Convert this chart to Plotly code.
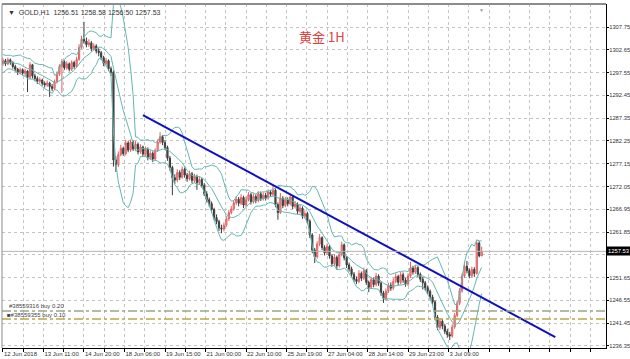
import plotly.graph_objects as go
import pandas as pd

# ---------------- data (2-hour bars, GOLD) ----------------
first_open = 1299.6
warmup_closes = [1297.8, 1298.6, 1299.9, 1300.8, 1299.4, 1298.2, 1299.6, 1301.0, 1300.1]

closes = [
    1300.2, 1299.5, 1300.4, 1299.8, 1298.9, 1298.3, 1297.6, 1298.2, 1297.4, 1297.9,
    1296.5, 1299.3, 1296.8, 1296.2, 1295.6, 1295.9, 1295.1, 1294.8, 1295.2, 1294.4,
    1294.0, 1295.5, 1297.2, 1298.9, 1300.0, 1298.6, 1299.5, 1298.3, 1299.8, 1298.9,
    1300.5, 1303.2, 1305.0, 1304.6, 1303.8, 1304.2, 1302.9, 1303.5, 1302.4, 1302.0,
    1300.9, 1299.6, 1300.2, 1298.4, 1297.6, 1278.0, 1276.9, 1279.2, 1280.6, 1279.4,
    1281.8, 1280.2, 1282.0, 1280.5, 1281.5, 1279.8, 1280.9, 1279.3, 1280.4, 1278.6,
    1279.5, 1278.2, 1280.1, 1282.0, 1283.2, 1281.9, 1280.8, 1278.4, 1276.3, 1274.0,
    1273.5, 1275.2, 1274.1, 1275.9, 1274.6, 1273.8, 1274.9, 1273.4, 1274.3, 1272.9,
    1273.6, 1272.3, 1270.4, 1269.1, 1268.2, 1266.9, 1265.1, 1264.2, 1262.8, 1262.5,
    1263.4, 1264.8, 1266.2, 1267.0, 1268.4, 1269.2, 1268.3, 1269.6, 1267.9, 1269.1,
    1270.2, 1268.6, 1269.8, 1268.9, 1270.4, 1269.3, 1270.1, 1269.5, 1270.8, 1270.3,
    1271.2, 1268.0, 1266.2, 1269.4, 1267.8, 1269.0, 1268.2, 1269.7, 1267.6, 1268.1,
    1266.5, 1267.2, 1265.4, 1266.0, 1264.3, 1261.2, 1257.8, 1256.3, 1259.2, 1260.6,
    1258.4, 1257.2, 1258.6, 1256.5, 1254.8, 1256.2, 1254.3, 1256.8, 1259.0, 1256.1,
    1254.5, 1253.6, 1252.4, 1251.3, 1250.8, 1252.6, 1251.5, 1253.2, 1250.6, 1249.5,
    1251.2, 1250.1, 1252.0, 1250.4, 1248.2, 1247.0, 1248.6, 1249.9, 1249.3, 1250.8,
    1251.9, 1250.6, 1252.3, 1251.1, 1250.2, 1252.0, 1253.8, 1252.9, 1253.9, 1252.4,
    1251.3, 1250.5, 1249.4, 1248.6, 1247.3, 1246.2, 1242.8, 1240.5, 1241.9, 1240.8,
    1239.6, 1238.9, 1238.6, 1240.6, 1243.2, 1245.9, 1248.7, 1252.0, 1254.2, 1253.2,
    1252.1, 1253.5, 1252.6, 1259.4, 1256.51, 1257.53]

highs = [
    1300.8, 1300.6, 1300.9, 1300.7, 1300.1, 1299.3, 1298.6, 1298.7, 1298.5, 1298.4,
    1298.1, 1299.9, 1299.5, 1297.3, 1296.7, 1296.5, 1296.2, 1295.6, 1295.8, 1295.5,
    1295.0, 1296.0, 1297.8, 1299.4, 1300.6, 1300.3, 1300.1, 1299.8, 1300.3, 1300.2,
    1301.1, 1303.9, 1305.8, 1308.9, 1305.4, 1305.0, 1304.6, 1304.1, 1303.9, 1303.0,
    1302.4, 1301.3, 1300.8, 1300.5, 1298.9, 1298.0, 1278.8, 1279.9, 1281.4, 1281.0,
    1282.5, 1282.2, 1282.6, 1282.4, 1282.2, 1281.9, 1281.5, 1281.2, 1281.0, 1280.8,
    1280.1, 1279.9, 1280.6, 1282.6, 1284.2, 1283.6, 1282.4, 1281.2, 1278.9, 1276.7,
    1274.8, 1275.9, 1275.7, 1276.5, 1276.3, 1275.1, 1275.6, 1275.3, 1274.9, 1274.7,
    1274.3, 1274.0, 1272.8, 1271.0, 1269.6, 1268.7, 1267.3, 1265.8, 1264.6, 1263.5,
    1264.0, 1265.4, 1266.8, 1267.7, 1269.0, 1269.9, 1269.7, 1270.3, 1270.0, 1269.8,
    1270.8, 1270.6, 1270.5, 1270.3, 1271.0, 1270.9, 1270.7, 1270.6, 1271.4, 1271.3,
    1272.0, 1271.6, 1268.5, 1270.6, 1269.9, 1269.7, 1269.6, 1270.3, 1270.1, 1268.8,
    1268.5, 1267.9, 1267.6, 1266.7, 1266.4, 1264.7, 1261.6, 1258.3, 1259.8, 1261.4,
    1260.9, 1258.9, 1259.3, 1259.0, 1256.9, 1256.9, 1256.6, 1257.4, 1259.7, 1259.3,
    1256.5, 1255.0, 1254.1, 1252.9, 1251.9, 1253.3, 1253.0, 1253.9, 1253.6, 1251.0,
    1251.8, 1251.7, 1252.7, 1252.4, 1250.8, 1248.7, 1249.2, 1250.5, 1250.6, 1251.5,
    1252.6, 1252.3, 1252.9, 1252.8, 1251.6, 1252.6, 1255.2, 1254.3, 1254.5, 1254.2,
    1252.8, 1251.8, 1250.9, 1249.9, 1249.0, 1247.8, 1246.6, 1243.3, 1242.6, 1242.4,
    1241.3, 1240.2, 1239.5, 1241.2, 1243.8, 1246.5, 1249.3, 1252.6, 1255.2, 1255.4,
    1253.7, 1254.1, 1254.0, 1260.1, 1259.8, 1258.58]

lows = [
    1299.1, 1299.0, 1299.2, 1299.3, 1298.4, 1297.8, 1297.0, 1297.2, 1296.9, 1296.8,
    1293.2, 1296.1, 1296.2, 1295.6, 1295.0, 1295.1, 1294.6, 1294.2, 1294.3, 1292.1,
    1293.4, 1293.7, 1295.1, 1296.8, 1293.0, 1298.1, 1298.2, 1297.8, 1297.9, 1298.4,
    1298.6, 1300.2, 1302.8, 1304.0, 1303.2, 1303.3, 1302.3, 1302.5, 1301.8, 1301.2,
    1300.3, 1299.0, 1299.1, 1297.9, 1296.8, 1276.5, 1275.3, 1276.4, 1278.8, 1278.9,
    1279.0, 1279.7, 1279.8, 1280.0, 1280.1, 1279.2, 1279.4, 1278.7, 1278.9, 1277.9,
    1278.0, 1277.5, 1277.8, 1279.8, 1281.6, 1281.3, 1280.2, 1277.8, 1275.6, 1270.1,
    1272.6, 1273.0, 1273.5, 1273.8, 1274.0, 1273.1, 1273.4, 1272.8, 1272.9, 1271.3,
    1272.4, 1271.8, 1269.9, 1268.5, 1267.6, 1266.2, 1264.5, 1263.6, 1262.1, 1261.6,
    1262.0, 1263.0, 1264.3, 1265.8, 1266.6, 1267.9, 1267.6, 1267.9, 1267.2, 1267.5,
    1268.7, 1268.0, 1268.2, 1268.3, 1268.5, 1268.8, 1268.9, 1268.9, 1269.1, 1269.7,
    1269.9, 1267.4, 1264.6, 1265.9, 1267.2, 1267.4, 1267.6, 1267.8, 1267.0, 1267.1,
    1265.9, 1266.0, 1264.8, 1264.9, 1263.6, 1260.5, 1257.1, 1254.9, 1255.9, 1258.7,
    1257.8, 1256.6, 1256.8, 1255.9, 1254.1, 1254.3, 1253.4, 1253.9, 1256.4, 1255.5,
    1253.8, 1253.0, 1251.8, 1250.7, 1250.2, 1250.4, 1250.9, 1251.1, 1250.0, 1248.4,
    1249.1, 1249.5, 1249.7, 1249.8, 1247.6, 1246.0, 1246.6, 1248.2, 1248.7, 1248.9,
    1250.4, 1250.0, 1250.2, 1250.5, 1249.6, 1249.8, 1251.6, 1252.3, 1252.5, 1251.8,
    1250.7, 1249.0, 1248.8, 1248.0, 1246.7, 1245.5, 1242.1, 1239.9, 1240.0, 1240.1,
    1239.0, 1238.2, 1237.7, 1238.2, 1240.2, 1242.8, 1245.5, 1248.3, 1251.6, 1252.6,
    1251.5, 1251.7, 1251.8, 1252.3, 1256.2, 1256.50]

# hours between bars and Bollinger settings
bar_hours = 2
bb_period = 10
bb_dev = 2

# trend line (hour index, price)
trend_hours = [114, 450]
trend_prices = [1288.05, 1238.36]

# order lines
order_prices = [1244.18, 1242.39]
order_labels = ["#38559316 buy 0.20", "■#38559355 buy 0.10"]

# axes
x_tick_labels = ["12 Jun 2018", "13 Jun 11:00", "14 Jun 20:00", "18 Jun 06:00",
                 "19 Jun 15:00", "21 Jun 00:00", "22 Jun 10:00", "25 Jun 19:00",
                 "27 Jun 04:00", "28 Jun 14:00", "29 Jun 23:00", "3 Jul 09:00"]
x_label_step = 33
y_ticks = [1236.35, 1241.45, 1246.55, 1251.65, 1256.75, 1261.85, 1266.95, 1272.05,
           1277.15, 1282.25, 1287.35, 1292.45, 1297.55, 1302.65, 1307.75]
last_price = 1257.53
header = "▼  GOLD,H1  1256.51 1258.58 1256.50 1257.53"
title_text = "黄金 1H"

# ---------------- build ----------------
n = len(closes)
opens = [first_open] + closes[:-1]
x = [i * bar_hours for i in range(n)]

s = pd.Series(warmup_closes + closes)
mid = s.rolling(bb_period).mean().iloc[len(warmup_closes):].tolist()
sd = s.rolling(bb_period).std(ddof=0).iloc[len(warmup_closes):].tolist()
upper = [m + bb_dev * d for m, d in zip(mid, sd)]
lower = [m - bb_dev * d for m, d in zip(mid, sd)]

fig = go.Figure()

bb_color = "#62b8b2"
for band in (upper, mid, lower):
    fig.add_trace(go.Scatter(x=x, y=band, mode="lines",
                             line=dict(color=bb_color, width=1), hoverinfo="skip"))

fig.add_trace(go.Candlestick(
    x=x, open=opens, high=highs, low=lows, close=closes,
    increasing=dict(line=dict(color="#e06060", width=1), fillcolor="#f4a8a8"),
    decreasing=dict(line=dict(color="#3c3c3c", width=1), fillcolor="#505050"),
    whiskerwidth=0,
))

fig.add_trace(go.Scatter(x=trend_hours, y=trend_prices, mode="lines",
                         line=dict(color="#1010c0", width=2)))

# current price line
fig.add_hline(y=last_price, line=dict(color="#b4b4b4", width=1))
# order lines
fig.add_hline(y=order_prices[0], line=dict(color="#98a888", width=1.5, dash="dashdot"))
fig.add_hline(y=order_prices[1], line=dict(color="#b8a848", width=1.5, dash="dashdot"))

# grid ticks every half label step
grid_vals = [i * x_label_step / 2 for i in range(30)]
grid_text = []
for i in range(30):
    if i % 2 == 0 and i // 2 < len(x_tick_labels):
        grid_text.append(x_tick_labels[i // 2])
    else:
        grid_text.append("")

# y tick under the current-price box is hidden in the reference
y_text = ["" if abs(v - last_price) < 1.5 else f"{v:.2f}" for v in y_ticks]

font_x = dict(family="Liberation Sans, Arial", size=6, color="#333333")
font_y = dict(family="Liberation Sans, Arial", size=5.8, color="#333333")

fig.update_layout(
    width=630, height=359,
    margin=dict(l=2, r=24, t=4, b=11, autoexpand=False),
    paper_bgcolor="white", plot_bgcolor="white",
    showlegend=False,
    xaxis=dict(range=[-0.8, 491.3], tickmode="array", tickvals=grid_vals, ticktext=grid_text,
               ticklabelposition="outside right", tickangle=0, ticks="outside", ticklen=3,
               tickcolor="#000000", tickfont=font_x, automargin=False,
               showgrid=True, gridcolor="#c4c4c4", griddash="dot", gridwidth=1,
               showline=True, linecolor="#000000", linewidth=1,
               rangeslider=dict(visible=False), zeroline=False, fixedrange=True),
    yaxis=dict(range=[1235.90, 1312.90], side="right", tickmode="array",
               tickvals=y_ticks, ticktext=y_text, automargin=False,
               ticks="outside", ticklen=2, tickcolor="#000000", tickfont=font_y,
               ticklabelstandoff=-1,
               showgrid=True, gridcolor="#c4c4c4", griddash="dot", gridwidth=1,
               showline=True, linecolor="#000000", linewidth=1, zeroline=False),
)

# frame (top gray bar, left gray line)
fig.add_shape(type="line", xref="paper", yref="paper", x0=0, x1=1, y0=1, y1=1,
              line=dict(color="#8c8c8c", width=2))
fig.add_shape(type="line", xref="paper", yref="paper", x0=0, x1=0, y0=0, y1=1,
              line=dict(color="#8c8c8c", width=1))

# header
fig.add_annotation(text=header, xref="paper", yref="paper", x=0, y=1,
                   xanchor="left", yanchor="top", xshift=4, yshift=-3,
                   showarrow=False, font=dict(family="Liberation Sans, Arial", size=7, color="#333333"))
# title
fig.add_annotation(text=title_text, xref="paper", yref="paper", x=0.529, y=0.905,
                   xanchor="center", yanchor="middle", showarrow=False,
                   font=dict(family="Noto Sans CJK SC", size=13, color="#e0403a"))
# price label
fig.add_annotation(text=f"{last_price:.2f}", xref="paper", yref="y", x=1, y=last_price,
                   xanchor="left", yanchor="middle", xshift=0, showarrow=False,
                   bgcolor="#000000", borderpad=1,
                   font=dict(family="Liberation Sans, Arial", size=5.8, color="#ffffff"))
# order labels
fig.add_annotation(text=order_labels[0], xref="paper", yref="y", x=0, y=order_prices[0],
                   xanchor="left", yanchor="bottom", xshift=5, yshift=0, showarrow=False,
                   font=dict(family="Liberation Sans, Arial", size=6, color="#444444"))
fig.add_annotation(text=order_labels[1], xref="paper", yref="y", x=0, y=order_prices[1],
                   xanchor="left", yanchor="bottom", xshift=3, yshift=-1, showarrow=False,
                   font=dict(family="Liberation Sans, Arial", size=6, color="#444444"))
# shift marker
fig.add_annotation(text="▼", xref="x", yref="paper", x=x[-1], y=1, yanchor="top",
                   showarrow=False, yshift=-1, font=dict(size=5, color="#999999"))

fig.write_html("out.html")
